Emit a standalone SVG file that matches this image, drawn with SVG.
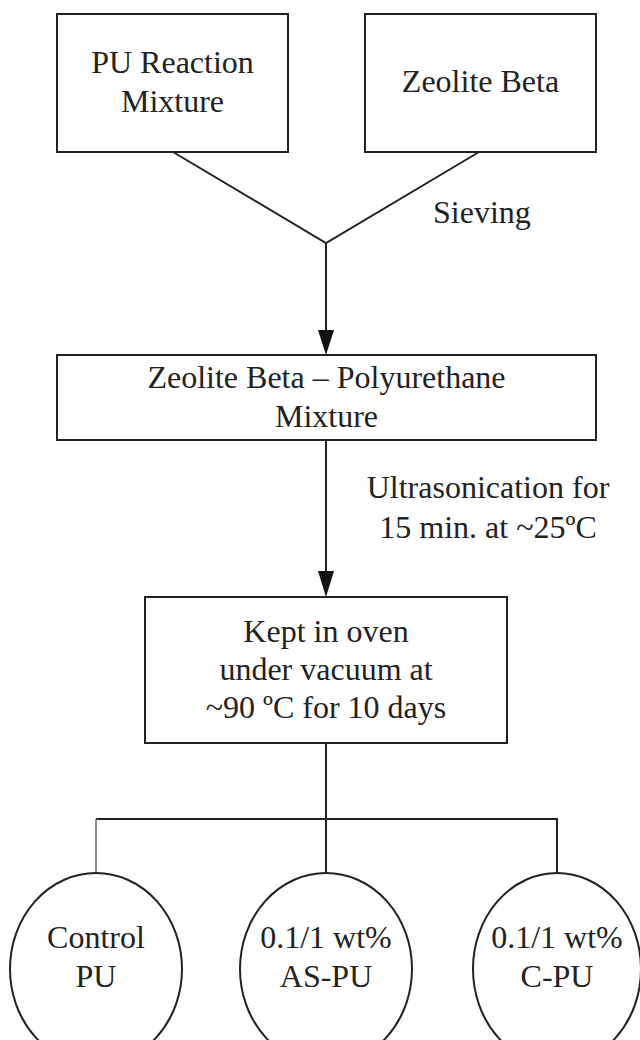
<svg xmlns="http://www.w3.org/2000/svg" width="640" height="1040" viewBox="0 0 640 1040">
<style>
.box{fill:#fff;stroke:#222;stroke-width:2}
.ell{fill:#fff;stroke:#222;stroke-width:2}
.ln{fill:none;stroke:#222;stroke-width:2}
.thin{fill:none;stroke:#666;stroke-width:1.5}
.head{fill:#111}
text{font-family:"Liberation Serif","Times New Roman",serif;font-size:32px;fill:#222;text-anchor:middle}
.lbl{text-anchor:start}
</style>
<rect width="640" height="1040" fill="#fff"/>
<g id="connectors">
<polyline class="ln" points="173,152 326,243 479,152"/>
<line class="ln" x1="326" y1="243" x2="326" y2="331"/>
<path class="head" d="M318,330 L334,330 L326,355 Z"/>
<line class="ln" x1="326" y1="440" x2="326" y2="572"/>
<path class="head" d="M318,571 L334,571 L326,597 Z"/>
<line class="ln" x1="326" y1="743" x2="326" y2="873"/>
<polyline class="ln" points="96,819 557,819 557,873"/>
<line class="thin" x1="96" y1="819" x2="96" y2="873"/>
<text class="lbl" x="433" y="223">Sieving</text>
<text x="488" y="498">Ultrasonication for</text>
<text x="488" y="538">15 min. at ~25ºC</text>
</g>
<g id="pu-reaction">
<rect class="box" x="57" y="14" width="231" height="138"/>
<text x="172.5" y="73">PU Reaction</text>
<text x="172.5" y="112">Mixture</text>
</g>
<g id="zeolite-beta">
<rect class="box" x="365" y="14" width="231" height="138"/>
<text x="480.5" y="92">Zeolite Beta</text>
</g>
<g id="mixture">
<rect class="box" x="57" y="355" width="539" height="85"/>
<text x="326.5" y="388">Zeolite Beta – Polyurethane</text>
<text x="326.5" y="427">Mixture</text>
</g>
<g id="oven">
<rect class="box" x="145" y="597" width="362" height="146"/>
<text x="326" y="642">Kept in oven</text>
<text x="326" y="680">under vacuum at</text>
<text x="326" y="718">~90 ºC for 10 days</text>
</g>
<g id="control-pu">
<ellipse class="ell" cx="96" cy="969" rx="86" ry="96"/>
<text x="96" y="948">Control</text>
<text x="96" y="987">PU</text>
</g>
<g id="as-pu">
<ellipse class="ell" cx="326" cy="969" rx="86" ry="96"/>
<text x="326" y="948">0.1/1 wt%</text>
<text x="326" y="987">AS-PU</text>
</g>
<g id="c-pu">
<ellipse class="ell" cx="557" cy="969" rx="84" ry="96"/>
<text x="557" y="948">0.1/1 wt%</text>
<text x="557" y="987">C-PU</text>
</g>
</svg>
